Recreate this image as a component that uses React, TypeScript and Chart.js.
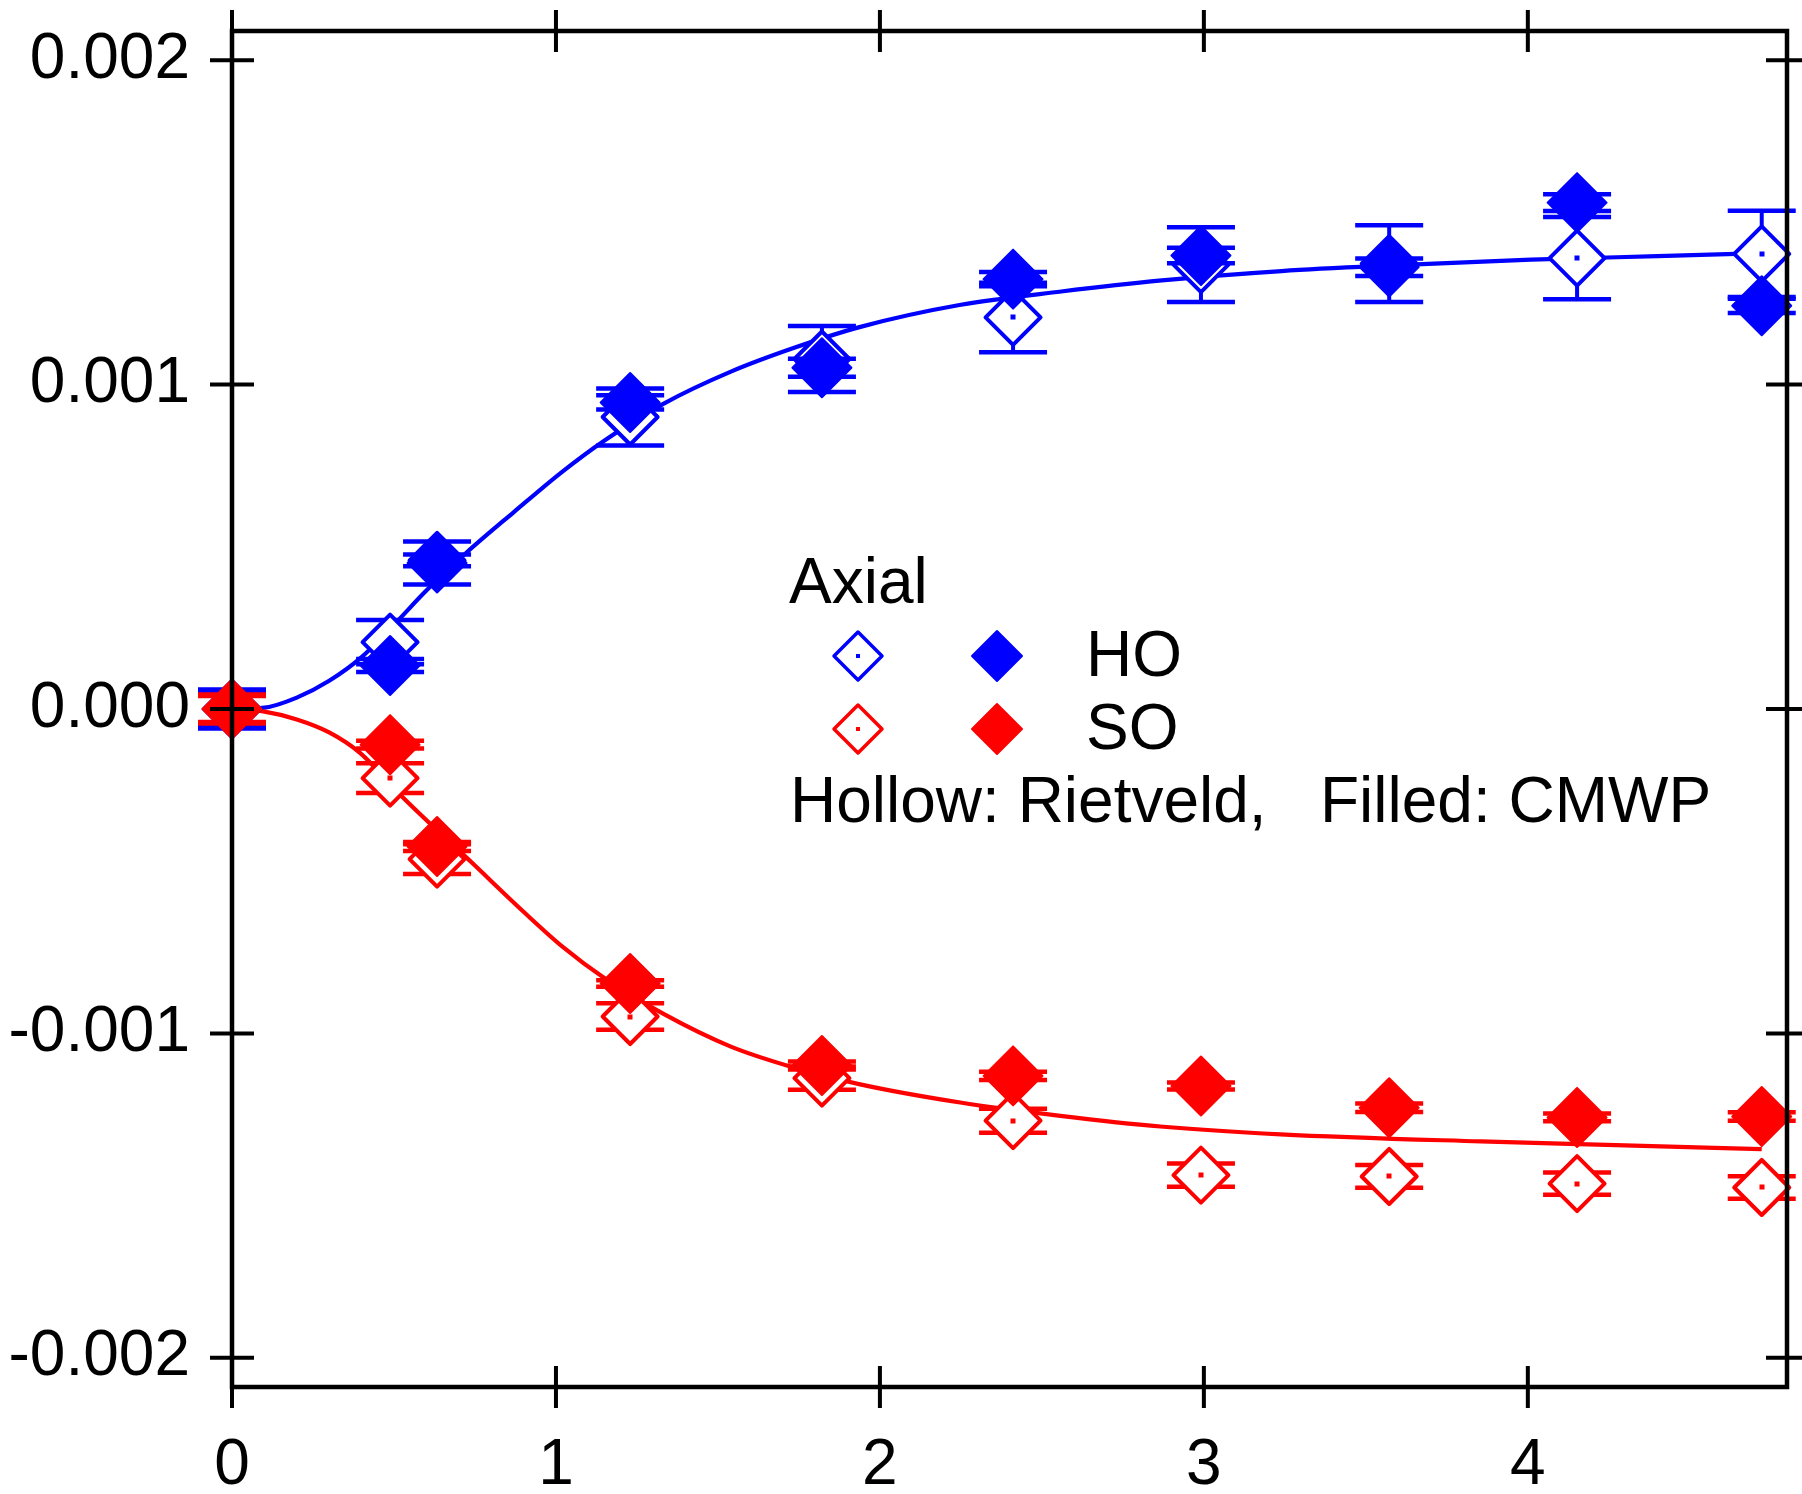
import React, { useEffect, useRef } from "react";
import { Chart, registerables } from "chart.js";

Chart.register(...registerables);

// ---------- data ----------
const X_STRAIN = [0, 0.488, 0.633, 1.229, 1.821, 2.411, 2.991, 3.572, 4.152, 4.722];

const HO_RIETVELD = [0, 0.000206, 0.000458, 0.0009, 0.001079, 0.001207, 0.00137, 0.001373, 0.00139, 0.001403];
const HO_RIETVELD_ERR = [0.00006, 0.000068, 0.000018, 0.000088, 0.000102, 0.000107, 0.000115, 0.000118, 0.000127, 0.000133];

const HO_CMWP = [0, 0.000134, 0.00045, 0.000945, 0.001052, 0.001325, 0.001398, 0.001362, 0.001561, 0.001243];
const HO_CMWP_ERR = [0.00005, 0.00002, 0.000066, 0.000022, 0.000028, 0.000022, 0.000024, 0.000027, 0.000026, 0.000022];

const SO_RIETVELD = [0, -0.000213, -0.000463, -0.000948, -0.001138, -0.001269, -0.001437, -0.001441, -0.001463, -0.001475];
const SO_RIETVELD_ERR = [0.000045, 0.000046, 0.000046, 0.000041, 0.000036, 0.000037, 0.000036, 0.000035, 0.000034, 0.000035];

const SO_CMWP = [0, -0.00011, -0.000424, -0.000846, -0.001099, -0.001131, -0.001162, -0.001229, -0.001259, -0.001256];
const SO_CMWP_ERR = [0.00004, 0.000012, 0.000014, 0.00001, 0.000012, 0.000013, 0.000011, 0.000013, 0.000012, 0.000013];

// fitted curves
const HO_FIT_X = [0, 0.1, 0.2, 0.3, 0.4, 0.5, 0.6, 0.725, 0.87, 1.02, 1.15, 1.33, 1.54, 1.74, 1.94, 2.25, 2.56, 2.87, 3.24, 3.6, 4.01, 4.4, 4.722];
const HO_FIT_Y = [0, 0.000004, 0.000035, 0.000087, 0.00016, 0.00026, 0.000365, 0.000483, 0.000607, 0.000732, 0.000828, 0.00094, 0.00104, 0.001115, 0.001178, 0.001246, 0.001287, 0.001321, 0.00135, 0.001368, 0.001385, 0.001396, 0.001405];

const SO_FIT_X = [0, 0.1, 0.2, 0.3, 0.395, 0.53, 0.745, 0.9, 1.023, 1.147, 1.332, 1.538, 1.723, 1.939, 2.248, 2.557, 2.866, 3.237, 3.854, 4.3, 4.722];
const SO_FIT_Y = [0, -0.000008, -0.000032, -0.000072, -0.000135, -0.000275, -0.000478, -0.000625, -0.000735, -0.000828, -0.00094, -0.00104, -0.001102, -0.001157, -0.001213, -0.001254, -0.001287, -0.001311, -0.001333, -0.001345, -0.001357];

const X_TICKS = [0, 1, 2, 3, 4];
const Y_TICKS = [-0.002, -0.001, 0, 0.001, 0.002];
const X_MIN = 0;
const X_MAX = 4.8;
const Y_MIN = -0.00209;
const Y_MAX = 0.00209;

const LEGEND_TITLE = "Axial";
const LEGEND_ROWS = ["HO", "SO"];
const LEGEND_NOTE = "Hollow: Rietveld,   Filled: CMWP";

// ---------- styling ----------
const BLUE = "#0000ff";
const RED = "#ff0000";
const FONT = '"Liberation Sans", Arial, Helvetica, sans-serif';
const W = 1802;
const H = 1494;

const pts = (xs: number[], ys: number[]) => xs.map((x, i) => ({ x, y: ys[i] }));

function diamond(ctx: CanvasRenderingContext2D, x: number, y: number, r: number) {
  ctx.beginPath();
  ctx.moveTo(x - r, y);
  ctx.lineTo(x, y - r);
  ctx.lineTo(x + r, y);
  ctx.lineTo(x, y + r);
  ctx.closePath();
}

const decorPlugin = {
  id: "decor",
  beforeDatasetDraw(chart: any, args: any) {
    const ds = chart.data.datasets[args.index];
    const ctx: CanvasRenderingContext2D = chart.ctx;
    if (ds.errors) {
      const xs = chart.scales.x;
      const ys = chart.scales.y;
      ctx.save();
      ctx.strokeStyle = ds.errColor;
      ds.data.forEach((p: any, i: number) => {
        const px = xs.getPixelForValue(p.x);
        const top = ys.getPixelForValue(p.y + ds.errors[i]);
        const bot = ys.getPixelForValue(p.y - ds.errors[i]);
        ctx.lineWidth = 4;
        ctx.beginPath();
        ctx.moveTo(px, top);
        ctx.lineTo(px, bot);
        ctx.stroke();
        ctx.lineWidth = 4.5;
        ctx.beginPath();
        ctx.moveTo(px - 34, top);
        ctx.lineTo(px + 34, top);
        ctx.moveTo(px - 34, bot);
        ctx.lineTo(px + 34, bot);
        ctx.stroke();
      });
      ctx.restore();
      ctx.lineJoin = "round";
    }
  },
  afterDatasetDraw(chart: any) {
    chart.ctx.lineJoin = "miter";
  },
  afterDatasetsDraw(chart: any) {
    const ctx: CanvasRenderingContext2D = chart.ctx;
    const xs = chart.scales.x;
    const ys = chart.scales.y;
    const { left, right, top, bottom } = chart.chartArea;
    ctx.save();

    // centre dots of hollow markers
    chart.data.datasets.forEach((ds: any) => {
      if (!ds.hollow) return;
      ctx.fillStyle = ds.errColor;
      ds.data.forEach((p: any) => {
        const px = xs.getPixelForValue(p.x);
        const py = ys.getPixelForValue(p.y);
        ctx.fillRect(Math.round(px) - 2.5, Math.round(py) - 2.5, 5, 5);
      });
    });

    // in-plot key
    ctx.fillStyle = "#000";
    ctx.font = `64px ${FONT}`;
    ctx.textBaseline = "alphabetic";
    ctx.textAlign = "left";
    ctx.fillText(LEGEND_TITLE, 789, 603);
    const rowColors = [BLUE, RED];
    LEGEND_ROWS.forEach((lab, i) => {
      const cy = 656 + i * 73;
      const col = rowColors[i];
      ctx.lineJoin = "round";
      diamond(ctx, 858, cy, 24);
      ctx.fillStyle = "#fff";
      ctx.fill();
      ctx.strokeStyle = col;
      ctx.lineWidth = 3.5;
      ctx.stroke();
      ctx.fillStyle = col;
      ctx.fillRect(856, cy - 2, 4, 4);
      diamond(ctx, 997, cy, 25);
      ctx.fill();
      ctx.lineWidth = 2;
      ctx.stroke();
      ctx.fillStyle = "#000";
      ctx.fillText(lab, 1086, cy + 20);
    });
    ctx.fillText(LEGEND_NOTE, 790, 822);

    // frame
    ctx.strokeStyle = "#000";
    ctx.lineJoin = "miter";
    ctx.lineWidth = 4.5;
    ctx.strokeRect(left, top, right - left, bottom - top);

    // mirrored ticks crossing the frame
    ctx.lineWidth = 4;
    ctx.beginPath();
    X_TICKS.forEach((v) => {
      const px = xs.getPixelForValue(v);
      ctx.moveTo(px, bottom - 21);
      ctx.lineTo(px, bottom + 21);
      ctx.moveTo(px, top - 21);
      ctx.lineTo(px, top + 21);
    });
    Y_TICKS.forEach((v) => {
      const py = ys.getPixelForValue(v);
      ctx.moveTo(left - 22, py);
      ctx.lineTo(left + 22, py);
      ctx.moveTo(right - 21, py);
      ctx.lineTo(right + 21, py);
    });
    ctx.stroke();
    ctx.restore();
  },
};

function markerSet(label: string, ys: number[], errs: number[], color: string, hollow: boolean, order: number) {
  return {
    label,
    data: pts(X_STRAIN, ys),
    errors: errs,
    errColor: color,
    hollow,
    showLine: false,
    pointStyle: "rectRot",
    pointRadius: hollow ? 27.5 : 29.5,
    pointHoverRadius: hollow ? 27.5 : 29.5,
    pointBackgroundColor: hollow ? "#ffffff" : color,
    pointBorderColor: color,
    pointBorderWidth: hollow ? 4 : 2,
    clip: false,
    order,
  };
}

export default function App() {
  const ref = useRef<HTMLCanvasElement | null>(null);

  useEffect(() => {
    if (!ref.current) return;
    const tickFont = { family: FONT, size: 64, lineHeight: 1.2 };
    const chart = new Chart(ref.current, {
      type: "scatter",
      data: {
        datasets: [
          {
            label: "HO fit",
            data: pts(HO_FIT_X, HO_FIT_Y),
            showLine: true,
            borderColor: BLUE,
            borderWidth: 4.2,
            pointRadius: 0,
            cubicInterpolationMode: "monotone",
            fill: false,
            clip: false,
            order: 10,
          } as any,
          {
            label: "SO fit",
            data: pts(SO_FIT_X, SO_FIT_Y),
            showLine: true,
            borderColor: RED,
            borderWidth: 4.2,
            pointRadius: 0,
            cubicInterpolationMode: "monotone",
            fill: false,
            clip: false,
            order: 9,
          } as any,
          markerSet("HO Rietveld", HO_RIETVELD, HO_RIETVELD_ERR, BLUE, true, 8) as any,
          markerSet("HO CMWP", HO_CMWP, HO_CMWP_ERR, BLUE, false, 7) as any,
          markerSet("SO Rietveld", SO_RIETVELD, SO_RIETVELD_ERR, RED, true, 6) as any,
          markerSet("SO CMWP", SO_CMWP, SO_CMWP_ERR, RED, false, 5) as any,
        ],
      },
      options: {
        responsive: false,
        maintainAspectRatio: false,
        devicePixelRatio: 1,
        animation: false,
        events: [],
        layout: { autoPadding: false, padding: { top: 31, right: 15, left: 0, bottom: 0 } },
        plugins: {
          legend: { display: false },
          tooltip: { enabled: false },
          title: { display: false },
        },
        scales: {
          x: {
            type: "linear",
            min: X_MIN,
            max: X_MAX,
            afterBuildTicks: (s: any) => {
              s.ticks = X_TICKS.map((v) => ({ value: v }));
            },
            afterFit: (s: any) => {
              s.height = H - 1387;
              s.paddingLeft = 0;
              s.paddingRight = 0;
              s.paddingTop = 0;
              s.paddingBottom = 0;
            },
            grid: { display: false, drawTicks: false, tickLength: 0 },
            border: { display: false },
            ticks: {
              padding: 41,
              color: "#000",
              font: tickFont,
              maxRotation: 0,
              autoSkip: false,
              callback: (v: any) => String(v),
            },
          },
          y: {
            type: "linear",
            min: Y_MIN,
            max: Y_MAX,
            afterBuildTicks: (s: any) => {
              s.ticks = Y_TICKS.map((v) => ({ value: v }));
            },
            afterFit: (s: any) => {
              s.width = 232;
              s.paddingLeft = 0;
              s.paddingRight = 0;
              s.paddingTop = 0;
              s.paddingBottom = 0;
            },
            grid: { display: false, drawTicks: false, tickLength: 0 },
            border: { display: false },
            ticks: {
              padding: 42,
              color: "#000",
              font: tickFont,
              autoSkip: false,
              callback: (v: any) => Number(v).toFixed(3),
            },
          },
        },
      } as any,
      plugins: [decorPlugin as any],
    });
    return () => chart.destroy();
  }, []);

  return (
    <div style={{ position: "absolute", left: 0, top: 0, width: W, height: H, background: "#fff" }}>
      <canvas ref={ref} width={W} height={H} style={{ display: "block", width: W, height: H }} />
    </div>
  );
}
